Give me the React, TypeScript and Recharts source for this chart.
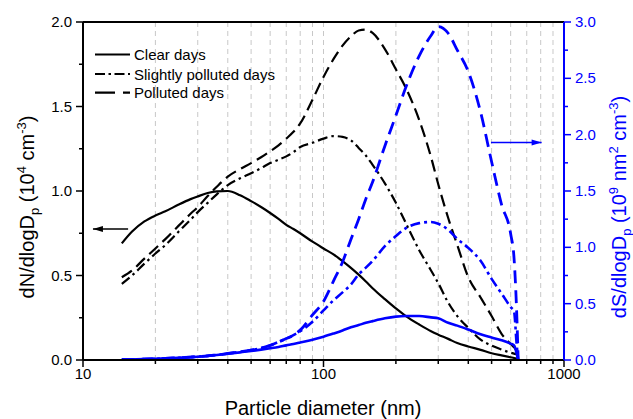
import { LineChart, Line, XAxis, YAxis, CartesianGrid, ReferenceLine } from 'recharts';

// particle diameter (nm)
const diameters = [
  14.5, 16, 18, 20, 22, 25, 28, 30, 33, 36, 40, 45, 50, 55, 60, 65, 70, 75, 80, 90, 100,
  110, 120, 130, 140, 150, 160, 180, 200, 220, 250, 280, 300, 330, 360, 400, 450, 500,
  550, 600, 620, 635, 645,
];

// dN/dlogDp (10^4 cm^-3)
const clearN = [
  0.69, 0.76, 0.82, 0.855, 0.88, 0.92, 0.952, 0.968, 0.988, 0.998, 1.0, 0.975, 0.94,
  0.905, 0.87, 0.835, 0.8, 0.775, 0.75, 0.7, 0.66, 0.625, 0.585, 0.545, 0.505, 0.465,
  0.425, 0.36, 0.305, 0.26, 0.21, 0.17, 0.15, 0.125, 0.1, 0.08, 0.06, 0.04, 0.027, 0.016,
  0.012, 0.008, 0.005,
];
const slightN = [
  0.45, 0.5, 0.57, 0.63, 0.68, 0.76, 0.83, 0.875, 0.93, 0.98, 1.035, 1.075, 1.105, 1.135,
  1.165, 1.185, 1.205, 1.23, 1.26, 1.285, 1.31, 1.325, 1.32, 1.3, 1.255, 1.21, 1.155,
  1.045, 0.93, 0.81, 0.65, 0.53, 0.455, 0.34, 0.26, 0.19, 0.12, 0.085, 0.062, 0.043,
  0.038, 0.033, 0.03,
];
const pollutedN = [
  0.49, 0.53, 0.6, 0.66, 0.715, 0.795, 0.865, 0.905, 0.97, 1.025, 1.085, 1.13, 1.165, 1.2,
  1.235, 1.27, 1.31, 1.35, 1.4, 1.54, 1.675, 1.78, 1.86, 1.915, 1.95, 1.955, 1.935,
  1.84, 1.72, 1.61, 1.42, 1.2, 1.04, 0.84, 0.68, 0.49, 0.37, 0.26, 0.155, 0.095,
  0.075, 0.055, 0.04,
];

// dS/dlogDp (10^9 nm^2 cm^-3)
const clearS = [
  0.003, 0.005, 0.008, 0.011, 0.014, 0.019, 0.025, 0.029, 0.036, 0.044, 0.055, 0.068,
  0.08, 0.092, 0.104, 0.116, 0.13, 0.142, 0.155, 0.18, 0.207, 0.235, 0.262, 0.29, 0.31,
  0.33, 0.345, 0.37, 0.385, 0.39, 0.39, 0.378, 0.37, 0.33, 0.305, 0.27, 0.228, 0.2,
  0.175, 0.145, 0.13, 0.06, 0,
];
const slightS = [
  0.003, 0.005, 0.008, 0.011, 0.014, 0.02, 0.026, 0.03, 0.037, 0.045, 0.058, 0.072,
  0.088, 0.105, 0.13, 0.16, 0.19, 0.22, 0.255, 0.34, 0.44, 0.53, 0.6, 0.67, 0.76, 0.82,
  0.88, 1.01, 1.1, 1.17, 1.215, 1.225, 1.21, 1.155, 1.075, 0.995, 0.88, 0.72, 0.59,
  0.47, 0.43, 0.15, 0,
];
const pollutedS = [
  0.003, 0.005, 0.008, 0.011, 0.014, 0.02, 0.026, 0.03, 0.037, 0.045, 0.058, 0.072,
  0.088, 0.105, 0.13, 0.16, 0.19, 0.22, 0.265, 0.4, 0.52, 0.7, 0.87, 1.07, 1.25, 1.43,
  1.58, 1.9, 2.17, 2.42, 2.7, 2.88, 2.96, 2.9, 2.75, 2.56, 2.2, 1.76, 1.38, 1.12, 0.9,
  0.45, 0,
];

const xTicks = [10, 20, 30, 40, 50, 60, 70, 80, 90, 100, 200, 300, 400, 500, 600, 700, 800, 900, 1000];
const xLabels = [10, 100, 1000];
const leftTicks = [0, 0.25, 0.5, 0.75, 1, 1.25, 1.5, 1.75, 2];
const rightTicks = [0, 0.25, 0.5, 0.75, 1, 1.25, 1.5, 1.75, 2, 2.25, 2.5, 2.75, 3];
const legendNames = ['Clear days', 'Slightly polluted days', 'Polluted days'];

// arrow end points (diameter, value)
const leftArrow = [{ x: 11, y: 0.775 }, { x: 15.4, y: 0.775 }];
const rightArrow = [{ x: 497, y: 1.93 }, { x: 807, y: 1.93 }];

const BLUE = '#0000ff';
const FONT = '"Liberation Sans", Arial, Helvetica, sans-serif';
const DASH = '12 6';
const DASH_DOT = '10 4 2.5 4';
const BLUE_DASH = '13 7';
const BLUE_DASH_DOT = '10 4 3 4';

const rows = diameters.map((d, i) => ({
  d,
  clearN: clearN[i],
  slightN: slightN[i],
  pollutedN: pollutedN[i],
  clearS: clearS[i],
  slightS: slightS[i],
  pollutedS: pollutedS[i],
}));

const isHalf = (v: number) => Math.abs(v * 2 - Math.round(v * 2)) < 1e-6;

function BottomTick({ x, y, payload }: any) {
  const major = xLabels.includes(payload.value);
  return (
    <g>
      <line x1={x} x2={x} y1={y} y2={y + (major ? 7 : 4)} stroke="#000" strokeWidth={1.5} />
      {major && (
        <text x={x} y={y + 19} textAnchor="middle" fontSize={15} fontFamily={FONT} fill="#000">
          {payload.value}
        </text>
      )}
    </g>
  );
}

function LeftTick({ x, y, payload }: any) {
  const major = isHalf(payload.value);
  return (
    <g>
      <line x1={x} x2={x - (major ? 7 : 4)} y1={y} y2={y} stroke="#000" strokeWidth={1.5} />
      {major && (
        <text x={x - 11} y={y + 5} textAnchor="end" fontSize={15} fontFamily={FONT} fill="#000">
          {payload.value.toFixed(1)}
        </text>
      )}
    </g>
  );
}

function RightTick({ x, y, payload }: any) {
  const major = isHalf(payload.value);
  return (
    <g>
      <line x1={x} x2={x + (major ? 7 : 4)} y1={y} y2={y} stroke={BLUE} strokeWidth={1.5} />
      {major && (
        <text x={x + 11} y={y + 5} textAnchor="start" fontSize={15} fontFamily={FONT} fill={BLUE}>
          {payload.value.toFixed(1)}
        </text>
      )}
    </g>
  );
}

const arrowShape = (color: string, dir: 'left' | 'right') => (p: any) => {
  const { x1, y1, x2, y2 } = p;
  const tip = dir === 'left' ? Math.min(x1, x2) : Math.max(x1, x2);
  const s = dir === 'left' ? 1 : -1;
  return (
    <g>
      <line x1={x1} y1={y1} x2={x2} y2={y2} stroke={color} strokeWidth={1.6} />
      <polygon points={`${tip},${y1} ${tip + s * 10},${y1 - 3} ${tip + s * 10},${y1 + 3}`} fill={color} />
    </g>
  );
};

function Titles() {
  const sup = { fontSize: 13 };
  return (
    <svg width={633} height={419} style={{ position: 'absolute', left: 0, top: 0, pointerEvents: 'none' }}>
      <g fontFamily={FONT}>
        {/* legend */}
        <line x1={95} x2={130} y1={54.5} y2={54.5} stroke="#000" strokeWidth={2.2} />
        <line x1={95} x2={130} y1={74} y2={74} stroke="#000" strokeWidth={2.2} strokeDasharray="10 3.5 2.5 3.5" />
        <line x1={95} x2={130} y1={92.7} y2={92.7} stroke="#000" strokeWidth={2.2} strokeDasharray="20 8" />
        {legendNames.map((n, i) => (
          <text key={n} x={134} y={[60, 79.5, 98][i]} fontSize={15} fill="#000">
            {n}
          </text>
        ))}

        <text x={323} y={415} textAnchor="middle" fontSize={20} fill="#000">
          Particle diameter (nm)
        </text>

        <text transform="translate(34,207) rotate(-90)" textAnchor="middle" fontSize={20} fill="#000">
          dN/dlogD
          <tspan dy={5} {...sup}>p</tspan>
          <tspan dy={-5}> (10</tspan>
          <tspan dy={-8} {...sup}>4</tspan>
          <tspan dy={8}> cm</tspan>
          <tspan dy={-8} {...sup}>-3</tspan>
          <tspan dy={8}>)</tspan>
        </text>

        <text transform="translate(626,207) rotate(-90)" textAnchor="middle" fontSize={20} fill={BLUE}>
          dS/dlogD
          <tspan dy={5} {...sup}>p</tspan>
          <tspan dy={-5}> (10</tspan>
          <tspan dy={-8} {...sup}>9</tspan>
          <tspan dy={8}> nm</tspan>
          <tspan dy={-8} {...sup}>2</tspan>
          <tspan dy={8}> cm</tspan>
          <tspan dy={-8} {...sup}>-3</tspan>
          <tspan dy={8}>)</tspan>
        </text>
      </g>
    </svg>
  );
}

export default function App() {
  return (
    <div style={{ position: 'absolute', left: 0, top: 0, width: 633, height: 419, background: '#fff' }}>
      <LineChart width={633} height={419} data={rows} margin={{ top: 22, right: 24, bottom: 19, left: 33 }}>
        <CartesianGrid horizontal={false} yAxisId="left" stroke="#c8c8c8" strokeDasharray="5 4" />
        <XAxis
          dataKey="d"
          type="number"
          scale="log"
          domain={[10, 1000]}
          ticks={xTicks}
          interval={0}
          height={40}
          tickSize={0}
          tickMargin={0}
          tickLine={false}
          tick={<BottomTick />}
          axisLine={{ stroke: '#000', strokeWidth: 2 }}
          allowDataOverflow
        />
        <YAxis
          yAxisId="left"
          domain={[0, 2]}
          ticks={leftTicks}
          interval={0}
          width={50}
          tickSize={0}
          tickMargin={0}
          tickLine={false}
          tick={<LeftTick />}
          axisLine={{ stroke: '#000', strokeWidth: 2 }}
          allowDataOverflow
        />
        <YAxis
          yAxisId="right"
          orientation="right"
          domain={[0, 3]}
          ticks={rightTicks}
          interval={0}
          width={45}
          tickSize={0}
          tickMargin={0}
          tickLine={false}
          tick={<RightTick />}
          axisLine={{ stroke: BLUE, strokeWidth: 2 }}
          allowDataOverflow
        />
        <ReferenceLine yAxisId="left" y={2} stroke="#000" strokeWidth={2} />

        <Line yAxisId="left" dataKey="clearN" type="monotone" stroke="#000" strokeWidth={2.2} dot={false} isAnimationActive={false} />
        <Line yAxisId="left" dataKey="slightN" type="monotone" stroke="#000" strokeWidth={2.2} strokeDasharray={DASH_DOT} dot={false} isAnimationActive={false} />
        <Line yAxisId="left" dataKey="pollutedN" type="monotone" stroke="#000" strokeWidth={2.2} strokeDasharray={DASH} dot={false} isAnimationActive={false} />
        <Line yAxisId="right" dataKey="clearS" type="monotone" stroke={BLUE} strokeWidth={2.6} dot={false} isAnimationActive={false} />
        <Line yAxisId="right" dataKey="slightS" type="monotone" stroke={BLUE} strokeWidth={2.6} strokeDasharray={BLUE_DASH_DOT} dot={false} isAnimationActive={false} />
        <Line yAxisId="right" dataKey="pollutedS" type="monotone" stroke={BLUE} strokeWidth={2.8} strokeDasharray={BLUE_DASH} dot={false} isAnimationActive={false} />

        <ReferenceLine yAxisId="left" segment={leftArrow} shape={arrowShape('#000', 'left')} />
        <ReferenceLine yAxisId="right" segment={rightArrow} shape={arrowShape(BLUE, 'right')} />
      </LineChart>
      <Titles />
    </div>
  );
}
